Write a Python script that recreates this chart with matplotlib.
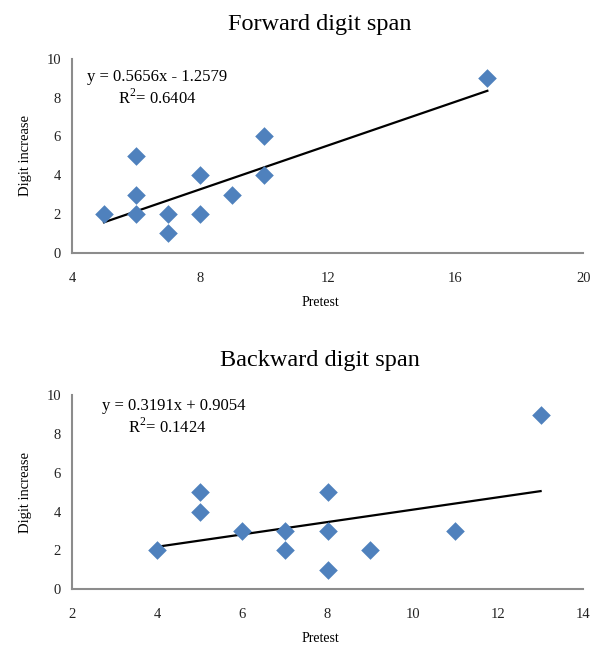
from matplotlib import pyplot as plt
import numpy as np

plt.rcParams["font.family"] = ["Liberation Serif", "DejaVu Serif"]
plt.rcParams["mathtext.fontset"] = "custom"
plt.rcParams["mathtext.rm"] = "Liberation Serif"

fwd_pretest = [5, 6, 6, 6, 7, 7, 8, 8, 9, 10, 10, 17]
fwd_increase = [2, 5, 3, 2, 2, 1, 4, 2, 3, 6, 4, 9]
fwd_slope, fwd_icpt, fwd_r2 = 0.5656, -1.2579, 0.6404
fwd_xticks = [4, 8, 12, 16, 20]

bwd_pretest = [4, 5, 5, 6, 7, 7, 8, 8, 8, 9, 11, 13]
bwd_increase = [2, 5, 4, 3, 3, 2, 5, 3, 1, 2, 3, 9]
bwd_slope, bwd_icpt, bwd_r2 = 0.3191, 0.9054, 0.1424
bwd_xticks = [2, 4, 6, 8, 10, 12, 14]

yticks = [0, 2, 4, 6, 8, 10]


def draw_panel(ax, x, y, slope, icpt, r2, xticks, title, eq, eq_pos, r2_pos):
    ax.scatter(x, y, marker="D", s=90, color="#4F81BD", zorder=3, linewidths=0)
    xl = np.array([min(x), max(x)])
    ax.plot(xl, slope * xl + icpt, color="black", linewidth=1.6, zorder=2)

    ax.set_xlim(xticks[0], xticks[-1])
    ax.set_ylim(0, 10)
    ax.set_xticks(xticks)
    ax.set_yticks(yticks)
    ax.tick_params(length=0, labelsize=10.5, colors="#222222", pad=8)
    ax.tick_params(axis="x", pad=14)
    for side in ["top", "right"]:
        ax.spines[side].set_visible(False)
    for side in ["left", "bottom"]:
        ax.spines[side].set_color("#8c8c8c")
        ax.spines[side].set_linewidth(1.5)

    ax.set_title(title, fontsize=17.5, pad=21, x=0.485)
    ax.set_xlabel("Pretest", fontsize=10)
    ax.xaxis.set_label_coords(0.485, -0.222)
    ax.set_ylabel("Digit increase", fontsize=10.5, labelpad=10)

    ax.text(eq_pos[0], eq_pos[1], eq, transform=ax.transAxes,
            fontsize=12, va="center")
    ax.text(r2_pos[0], r2_pos[1], "R$^2$= %.4f" % r2, transform=ax.transAxes,
            fontsize=12, va="center")


fig = plt.figure(figsize=(6, 6.48), dpi=100)
ax1 = fig.add_axes([0.12, 0.610, 0.852, 0.299])
ax2 = fig.add_axes([0.12, 0.091, 0.852, 0.299])

draw_panel(ax1, fwd_pretest, fwd_increase, fwd_slope, fwd_icpt, fwd_r2,
           fwd_xticks, "Forward digit span", "y = 0.5656x - 1.2579",
           (0.029, 0.907), (0.09, 0.80))
draw_panel(ax2, bwd_pretest, bwd_increase, bwd_slope, bwd_icpt, bwd_r2,
           bwd_xticks, "Backward digit span", "y = 0.3191x + 0.9054",
           (0.059, 0.943), (0.11, 0.835))

plt.savefig("out.png")
plt.close()
